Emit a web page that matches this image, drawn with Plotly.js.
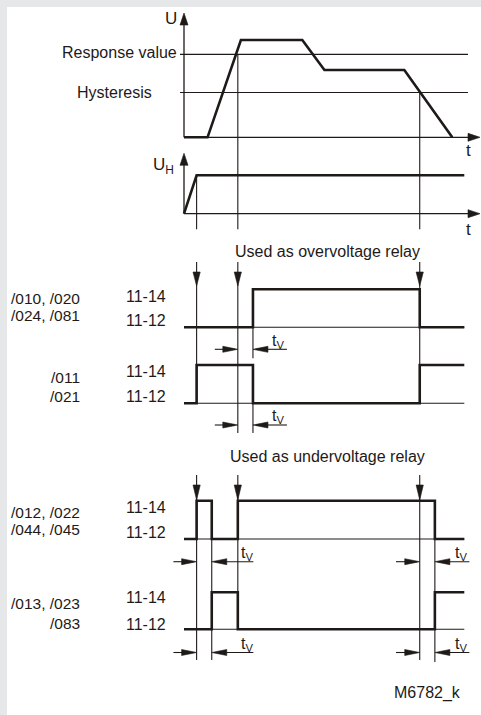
<!DOCTYPE html>
<html><head><meta charset="utf-8">
<script src="https://cdn.plot.ly/plotly-3.0.1.min.js"></script>
<style>html,body{margin:0;padding:0;background:#fff;}#chart{width:481px;height:715px;}</style>
</head><body><div id="chart"></div>
<script>
// ---------------- DATA (time in diagram units: 0 = axis origin, 100 = end of traces) ----------------
const U_time  = [0, 8.4, 20.3, 42.2, 50.1, 78.6, 95.7];
const U_value = [0, 0, 100, 100, 69.2, 69.2, 0];        // measured voltage, % of peak
const RESPONSE_VALUE = 85.2;
const HYSTERESIS_VALUE = 46;
const UH_time  = [0, 4.5, 100];
const UH_value = [0, 1, 1];                              // auxiliary voltage (on = 1)
const event_times = [4.5, 19.2, 84.1];                   // U_H on, response crossed, hysteresis crossed
const T_UH = 4.5, T_RESPONSE = 19.2, T_HYSTERESIS = 84.1;
const over_tv_windows  = [[19.2, 24.6]];                 // t_V delay windows
const under_tv_windows = [[4.5, 9.9], [84.1, 89.5]];
// relay contact state: 1 = 11-14, 0 = 11-12
const over_a_time  = [0, 24.6, 84.1, 100];       const over_a_state  = [0, 1, 0, 0];
const over_b_time  = [0, 4.5, 24.6, 84.1, 100];  const over_b_state  = [0, 1, 0, 1, 1];
const under_a_time = [0, 4.5, 9.9, 19.2, 89.5, 100]; const under_a_state = [0, 1, 0, 1, 0, 0];
const under_b_time = [0, 9.9, 19.2, 89.5, 100];  const under_b_state = [0, 1, 0, 1, 1];
const row_names = [["/010, /020", "/024, /081"], ["/011", "/021"], ["/012, /022", "/044, /045"], ["/013, /023", "/083"]];
const contact_labels = ["11-14", "11-12"];
const section_titles = ["Used as overvoltage relay", "Used as undervoltage relay"];

// ---------------- LAYOUT ----------------
const W = 481, H = 715, PX0 = 184, PPT = 2.803;
const INK = '#1e1a18', THICK = 2.6, THIN = 1.1;
const FONT = "Liberation Sans, Arial, sans-serif";
const FS = 16;
const dt = px => px / PPT;
const tAt = px => (px - PX0) / PPT;
const P = {
  U:  {axis: 'y',  base: 137.3, ppu: 0.973},
  UH: {axis: 'y2', base: 213.7, ppu: 38.4},
  O1: {axis: 'y3', base: 327.3, ppu: 38},
  O2: {axis: 'y4', base: 403.3, ppu: 38.3},
  D1: {axis: 'y5', base: 539,   ppu: 38.3},
  D2: {axis: 'y6', base: 629.3, ppu: 37}
};
const v = (p, px) => (p.base - px) / p.ppu;

const traces = [];
function line(p, xs, ys, w, shape) {
  traces.push({type: 'scatter', mode: 'lines', x: xs, y: ys, xaxis: 'x', yaxis: p.axis,
    line: {color: INK, width: w, shape: shape || 'linear'}, hoverinfo: 'skip', showlegend: false});
}
function head(p, tx, ty, dir, len, half) {
  let xs, ys;
  if (dir === 'down') { xs = [tx, tx - dt(half), tx + dt(half), tx]; ys = [ty, ty + len / p.ppu, ty + len / p.ppu, ty]; }
  if (dir === 'up')   { xs = [tx, tx - dt(half), tx + dt(half), tx]; ys = [ty, ty - len / p.ppu, ty - len / p.ppu, ty]; }
  if (dir === 'right'){ xs = [tx, tx - dt(len), tx - dt(len), tx]; ys = [ty, ty + half / p.ppu, ty - half / p.ppu, ty]; }
  if (dir === 'left') { xs = [tx, tx + dt(len), tx + dt(len), tx]; ys = [ty, ty + half / p.ppu, ty - half / p.ppu, ty]; }
  traces.push({type: 'scatter', mode: 'lines', x: xs, y: ys, xaxis: 'x', yaxis: p.axis, fill: 'toself',
    fillcolor: INK, line: {color: INK, width: 0.6}, hoverinfo: 'skip', showlegend: false});
}
const ann = [];
function text(t, xpx, ypx, xanchor, size) {
  ann.push({text: t, x: xpx / W, y: 1 - ypx / H, xref: 'paper', yref: 'paper', showarrow: false,
    xanchor: xanchor, yanchor: 'middle', font: {family: FONT, size: size || FS, color: INK}});
}

// ---- U panel ----
line(P.U, [0, 0], [0, v(P.U, 24)], THIN + 0.2); head(P.U, 0, v(P.U, 13), 'up', 12, 4);
line(P.U, [0, tAt(468)], [0, 0], THIN + 0.2); head(P.U, tAt(480), 0, 'right', 12, 4);
line(P.U, [tAt(180), tAt(468)], [RESPONSE_VALUE, RESPONSE_VALUE], THIN);
line(P.U, [tAt(180), tAt(468)], [HYSTERESIS_VALUE, HYSTERESIS_VALUE], THIN);
line(P.U, U_time, U_value, THICK);
line(P.U, [T_RESPONSE, T_RESPONSE], [RESPONSE_VALUE, v(P.U, 229.3)], THIN);
line(P.U, [T_HYSTERESIS, T_HYSTERESIS], [HYSTERESIS_VALUE, v(P.U, 229.3)], THIN);
// ---- U_H panel ----
line(P.UH, [0, 0], [0, v(P.UH, 164)], THIN + 0.2); head(P.UH, 0, v(P.UH, 153.3), 'up', 12, 4);
line(P.UH, [0, tAt(468)], [0, 0], THIN + 0.2); head(P.UH, tAt(480), 0, 'right', 12, 4);
line(P.UH, UH_time, UH_value, THICK);
line(P.UH, [T_UH, T_UH], [1, v(P.UH, 229.3)], THIN);

// ---- overvoltage section ----
const over_bottom = [403.3, 433, 403.3];
event_times.forEach((t, i) => {
  line(P.O1, [t, t], [v(P.O1, 262), v(P.O1, over_bottom[i])], THIN);
  head(P.O1, t, v(P.O1, 286), 'down', 14, 3.6);
});
over_tv_windows.forEach(w => {
  line(P.O1, [w[1], w[1]], [1, v(P.O1, 358.3)], THIN);
  line(P.O2, [w[1], w[1]], [1, v(P.O2, 433)], THIN);
});
line(P.O1, [0, 100], [0, 0], THIN); line(P.O1, over_a_time, over_a_state, THICK, 'hv');
line(P.O2, [0, 100], [0, 0], THIN); line(P.O2, over_b_time, over_b_state, THICK, 'hv');

// ---- undervoltage section ----
const under_bottom = [660, 629.3, 660];
event_times.forEach((t, i) => {
  line(P.D1, [t, t], [v(P.D1, 475), v(P.D1, under_bottom[i])], THIN);
  head(P.D1, t, v(P.D1, 500), 'down', 15, 3.6);
});
under_tv_windows.forEach((w, i) => {
  line(P.D1, [w[1], w[1]], [1, v(P.D1, i ? 662 : 660)], THIN);
});
line(P.D1, [0, 100], [0, 0], THIN); line(P.D1, under_a_time, under_a_state, THICK, 'hv');
line(P.D2, [0, 100], [0, 0], THIN); line(P.D2, under_b_time, under_b_state, THICK, 'hv');

// ---- t_V markers ----
function tvMark(p, ypx, w, leftTail, rightTail, labelOff) {
  const yv = v(p, ypx);
  line(p, [w[0] - dt(leftTail), w[0] - dt(3)], [yv, yv], THIN); head(p, w[0], yv, 'right', 15, 3);
  line(p, [w[1] + dt(rightTail), w[1] + dt(3)], [yv, yv], THIN); head(p, w[1], yv, 'left', 15, 3);
  ann.push({text: 't<sub>V</sub>', x: w[1] + dt(labelOff), y: 1 - (ypx - 8) / H, xref: 'x', yref: 'paper',
    showarrow: false, xanchor: 'center', yanchor: 'middle', font: {family: FONT, size: FS, color: INK}});
}
tvMark(P.O1, 349.3, over_tv_windows[0], 23, 34, 25);
tvMark(P.O2, 425, over_tv_windows[0], 23, 34, 25);
tvMark(P.D1, 561.7, under_tv_windows[0], 23.2, 41.6, 35.5);
tvMark(P.D2, 652.5, under_tv_windows[0], 23.2, 41.6, 35.5);
tvMark(P.D1, 561.7, under_tv_windows[1], 23.7, 34.5, 26);
tvMark(P.D2, 652.5, under_tv_windows[1], 23.7, 34.5, 26);

// ---- texts ----
text('U', 171, 19, 'center', 17);
text('Response value', 179, 52, 'right');
text('Hysteresis', 75, 92.5, 'left');
text('U<sub>H</sub>', 176, 166, 'right', 17);
text('t', 468, 151, 'center', 17);
text('t', 468, 229, 'center', 17);
text(section_titles[0], 327, 251.5, 'center');
text(section_titles[1], 327, 456, 'center');
const name_y = [[298.5, 315.5], [377.5, 396], [512.5, 529.5], [603, 623]];
const contact_y = [[296, 321], [371, 396], [507.5, 532.5], [597.5, 624]];
row_names.forEach((n, i) => {
  text(n[0], 82, name_y[i][0], 'right', 15.5); text(n[1], 82, name_y[i][1], 'right', 15.5);
  text(contact_labels[0], 124, contact_y[i][0], 'left'); text(contact_labels[1], 124, contact_y[i][1], 'left');
});
text('M6782_k', 463, 693, 'right');

const layout = {
  width: W, height: H, margin: {l: 0, r: 0, t: 0, b: 0},
  paper_bgcolor: '#e6e7e9', plot_bgcolor: 'rgba(0,0,0,0)', showlegend: false,
  font: {family: FONT, size: FS, color: INK},
  xaxis: {range: [tAt(0), tAt(W)], visible: false, fixedrange: true},
  annotations: ann,
  shapes: [{type: 'rect', xref: 'paper', yref: 'paper', x0: 7 / W, x1: 1, y0: 0, y1: 1 - 7 / H,
    fillcolor: '#ffffff', line: {width: 0}, layer: 'below'}]
};
Object.values(P).forEach((p, i) => {
  const key = i === 0 ? 'yaxis' : 'yaxis' + (i + 1);
  layout[key] = {range: [(p.base - H) / p.ppu, p.base / p.ppu], domain: [0, 1], visible: false, fixedrange: true};
  if (i > 0) layout[key].overlaying = 'y';
});
Plotly.newPlot('chart', traces, layout, {staticPlot: true, displayModeBar: false});
</script></body></html>
